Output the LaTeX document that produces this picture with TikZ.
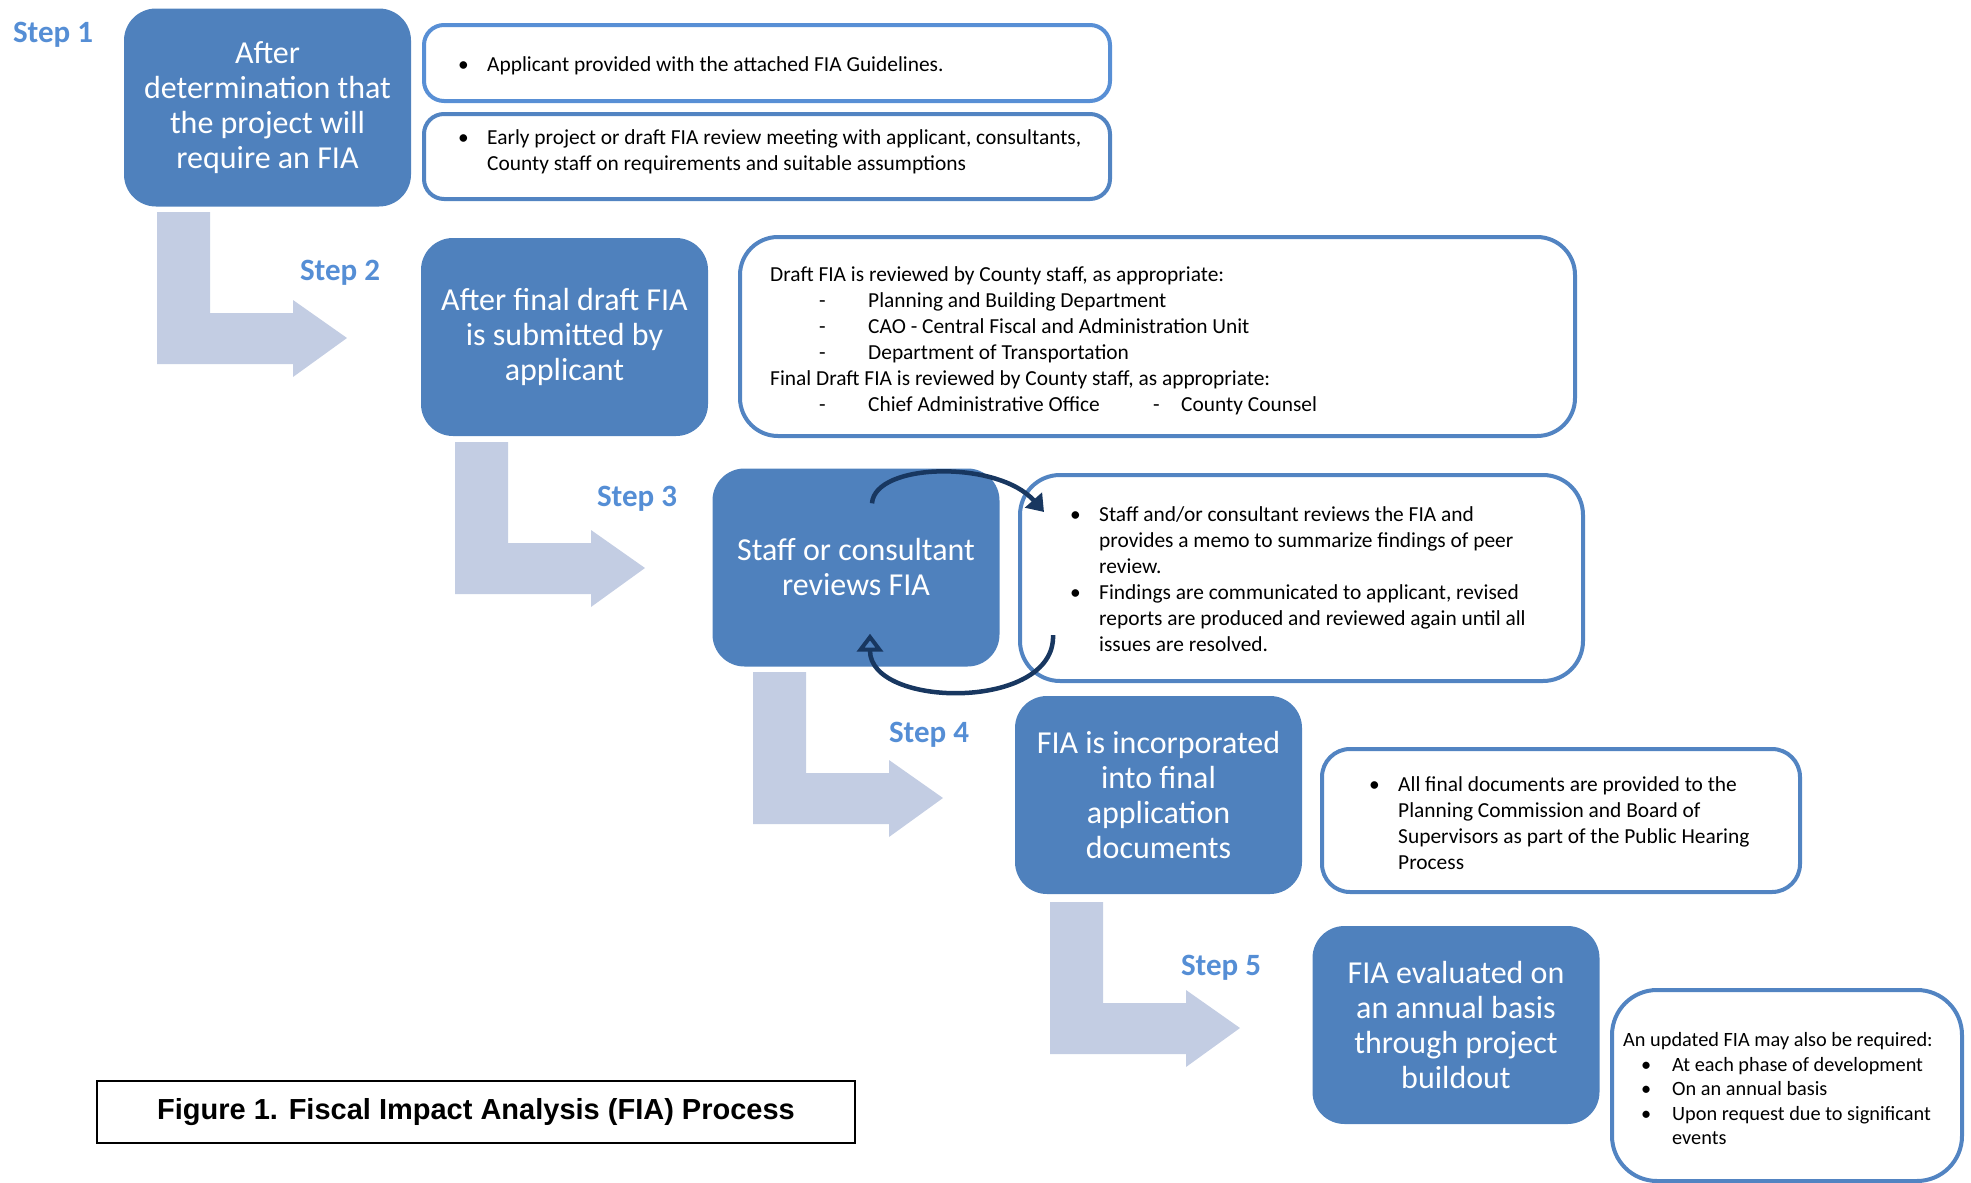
\documentclass[tikz,border=0pt]{standalone}
\usepackage{fontspec}
\setmainfont{Carlito}
\newfontfamily\capfont{Liberation Sans}
\usepackage{tikz}
\usetikzlibrary{arrows.meta, positioning, calc}

\definecolor{boxblue}{RGB}{79,129,189}
\definecolor{bordlight}{RGB}{88,143,213}
\definecolor{bordblue}{RGB}{82,132,194}
\definecolor{steplbl}{RGB}{85,142,213}
\definecolor{bentgray}{RGB}{195,205,227}
\definecolor{loopnavy}{RGB}{24,55,96}

\newcommand{\bl}{\makebox[29pt][l]{\textbullet}}
\newcommand{\hang}{\hspace*{29pt}}

\begin{document}
\begin{tikzpicture}[x=1pt, y=-1pt,
    stepbox/.style={fill=boxblue, rounded corners=32pt, minimum width=287pt,
        minimum height=198pt, text=white, align=center,
        font=\fontsize{32}{35}\selectfont},
    infobox/.style={draw=bordblue, line width=4pt, fill=white, inner sep=0pt},
    infotext/.style={inner sep=0pt, align=left, anchor=west,
        font=\fontsize{21.4}{26}\selectfont},
    steplabel/.style={text=steplbl, font=\bfseries\fontsize{31}{34}\selectfont}]
\useasboundingbox (0,0) rectangle (1971,1183);

% Bent arrows between the steps
\foreach \bx/\by in {157/212, 455/442, 753/672, 1050/902}
    \fill[bentgray] (\bx,\by) -- ++(53,0) -- ++(0,101) -- ++(83,0) -- ++(0,-13)
        -- ++(54,38) -- ++(-54,39) -- ++(0,-13) -- ++(-136,0) -- cycle;

% Step labels
\node[steplabel] (lbl1) at (53,35) {Step 1};
\node[steplabel] (lbl2) at (340,273) {Step 2};
\node[steplabel] (lbl3) at (637,499) {Step 3};
\node[steplabel] (lbl4) at (929,735) {Step 4};
\node[steplabel] (lbl5) at (1221,968) {Step 5};

% Step boxes
\node[stepbox] (step1) at (267.5,107.5) {After\\determination that\\the project will\\require an FIA};
\node[stepbox] (step2) at (564.5,337) {After final draft FIA\\is submitted by\\applicant};
\node[stepbox] (step3) at (856,567.5) {Staff or consultant\\reviews FIA};
\node[stepbox] (step4) at (1158.5,795) {FIA is incorporated\\into final\\application\\documents};
\node[stepbox] (step5) at (1456,1025) {FIA evaluated on\\an annual basis\\through project\\buildout};

% Detail boxes
\node[infobox, draw=bordlight, rounded corners=20pt, minimum width=686pt, minimum height=76pt] (info1a) at (767,63) {};
\node[infobox, rounded corners=20pt, minimum width=686pt, minimum height=85pt] (info1b) at (767,156.5) {};
\node[infobox, rounded corners=38pt, minimum width=835pt, minimum height=199pt] (info2) at (1157.5,336.5) {};
\node[infobox, rounded corners=40pt, minimum width=563pt, minimum height=206pt] (info3) at (1301.5,578) {};
\node[infobox, rounded corners=28pt, minimum width=478pt, minimum height=143pt] (info4) at (1561,820.5) {};
\node[infobox, rounded corners=45pt, minimum width=350pt, minimum height=191pt] (info5) at (1787,1085.5) {};

% Texts of the detail boxes
\node[infotext] (text1a) at ([xshift=36pt, yshift=-3pt]info1a.west) {\bl Applicant provided with the attached FIA Guidelines.};
\node[infotext] (text1b) at ([xshift=36pt, yshift=5pt]info1b.west)
    {\bl Early project or draft FIA review meeting with applicant, consultants,\\
     \hang County staff on requirements and suitable assumptions};
\node[infotext] (text2) at ([xshift=32pt, yshift=-4pt]info2.west)
    {Draft FIA is reviewed by County staff, as appropriate:\\
     \hspace*{49pt}\makebox[49pt][l]{-}Planning and Building Department\\
     \hspace*{49pt}\makebox[49pt][l]{-}CAO - Central Fiscal and Administration Unit\\
     \hspace*{49pt}\makebox[49pt][l]{-}Department of Transportation\\
     Final Draft FIA is reviewed by County staff, as appropriate:\\
     \hspace*{49pt}\makebox[49pt][l]{-}\makebox[285pt][l]{Chief Administrative Office}\makebox[28pt][l]{-}County Counsel};
\node[infotext] (text3) at ([xshift=52pt, yshift=-1pt]info3.west)
    {\bl Staff and/or consultant reviews the FIA and\\
     \hang provides a memo to summarize findings of peer\\
     \hang review.\\
     \bl Findings are communicated to applicant, revised\\
     \hang reports are produced and reviewed again until all\\
     \hang issues are resolved.};
\node[infotext] (text4) at ([xshift=49pt, yshift=-2.5pt]info4.west)
    {\bl All final documents are provided to the\\
     \hang Planning Commission and Board of\\
     \hang Supervisors as part of the Public Hearing\\
     \hang Process};
\node[infotext, font=\fontsize{20.3}{24.5}\selectfont] (text5) at ([xshift=13pt, yshift=-3.5pt]info5.west)
    {An updated FIA may also be required:\\
     \hspace*{18pt}\makebox[31pt][l]{\textbullet}At each phase of development\\
     \hspace*{18pt}\makebox[31pt][l]{\textbullet}On an annual basis\\
     \hspace*{18pt}\makebox[31pt][l]{\textbullet}Upon request due to significant\\
     \hspace*{49pt}events};

% Review loop between step 3 and its detail box
\coordinate (loopa) at ($(step3.north)+(16,35)$);
\coordinate (loopb) at ($(info3.north west)+(26,39)$);
\coordinate (loopc) at ($(info3.south west)+(35,-48)$);
\coordinate (loopd) at ($(step3.south)+(14,-33)$);
\draw[loopnavy, line width=4.5pt, -{Triangle[width=22pt, length=16pt]}]
    (loopa) .. controls +(3,-41) and +(-46,-52) .. (loopb);
\draw[loopnavy, line width=4.5pt, -{Triangle[open, width=26pt, length=18pt, line width=4pt]}]
    (loopc) .. controls +(3,76) and +(0,75) .. (loopd);

% Caption
\node[draw, line width=1.2pt, minimum width=758pt, minimum height=62pt,
    font=\capfont\bfseries\fontsize{29}{32}\selectfont] (caption) at (476,1112)
    {Figure 1. Fiscal Impact Analysis (FIA) Process};
\end{tikzpicture}
\end{document}
